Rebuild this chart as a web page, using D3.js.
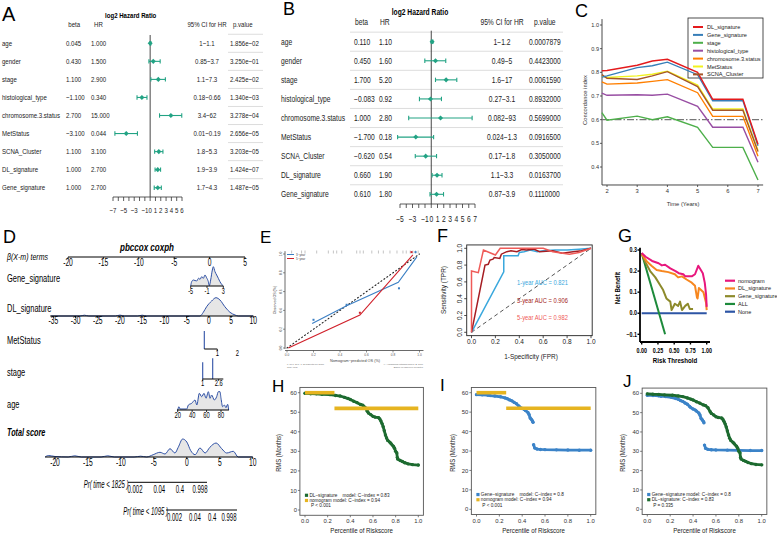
<!DOCTYPE html>
<html>
<head>
<meta charset="utf-8">
<script src="https://cdn.jsdelivr.net/npm/d3@7/dist/d3.min.js"></script>
<style>
html,body{margin:0;padding:0;background:#fff;}
svg{display:block;font-family:"Liberation Sans",Arial,Helvetica,sans-serif;}
</style>
</head>
<body>
<svg id="fig" width="777" height="536"></svg>
<script>
// ================= DATA =================
const forestTerms = ["age","gender","stage","histological_type","chromosome.3.status","MetStatus","SCNA_Cluster","DL_signature","Gene_signature"];
// Panel A (multivariate)
const aBeta = [0.045,0.430,1.100,-1.100,2.700,-3.100,1.100,1.000,1.000];
const aHR   = [1.000,1.500,2.900,0.340,15.000,0.044,3.100,2.700,2.700];
const aLo   = [1,0.85,1.1,0.18,3.4,0.01,1.8,1.9,1.7];
const aHi   = [1.1,3.7,7.3,0.66,62,0.19,5.3,3.9,4.3];
const aP    = [1.856e-2,3.250e-1,2.425e-2,1.340e-3,3.278e-4,2.656e-5,3.203e-5,1.424e-7,1.487e-5];
const aTicks = [-7,-6,-5,-4,-3,-2,-1,0,1,2,3,4,5,6];
const aTickLabels = [-7,-5,-3,-1,0,1,2,3,4,5,6];
// Panel B
const bBeta = [0.110,0.450,1.700,-0.083,1.000,-1.700,-0.620,0.660,0.610];
const bHR   = [1.10,1.60,5.20,0.92,2.80,0.18,0.54,1.90,1.80];
const bLo   = [1,0.49,1.6,0.27,0.082,0.024,0.17,1.1,0.87];
const bHi   = [1.2,5,17,3.1,93,1.3,1.8,3.3,3.9];
const bP    = [0.0007879,0.4423,0.006159,0.8932,0.5699,0.09165,0.305,0.01637,0.111];
const bTicks = [-5,-4,-3,-2,-1,0,1,2,3,4,5,6,7];
const bTickLabels = [-5,-3,-1,0,1,2,3,4,5,6,7];

// Panel C: time-dependent C-index
const cTimes = [1.83,2,3,3.5,4,5,5.5,6.5,7];
const cNames = ["DL_signature","Gene_signature","stage","histological_type","chromosome.3.status","MetStatus","SCNA_Cluster"];
const cDL    = [0.807,0.808,0.830,0.848,0.855,0.800,0.686,0.686,0.496];
const cGene  = [0.780,0.785,0.820,0.828,0.843,0.790,0.680,0.680,0.490];
const cStage = [0.630,0.598,0.615,0.600,0.612,0.568,0.483,0.483,0.345];
const cHist  = [0.712,0.703,0.705,0.703,0.708,0.656,0.568,0.568,0.420];
const cChrom = [0.760,0.750,0.755,0.762,0.769,0.714,0.614,0.614,0.445];
const cMet   = [0.785,0.778,0.785,0.792,0.805,0.746,0.645,0.645,0.470];
const cSCNA  = [0.790,0.775,0.770,0.785,0.803,0.740,0.640,0.640,0.465];
const cYTicks = [0.4,0.5,0.6,0.7,0.8,0.9,1.0];
const cXTicks = [2,3,4,5,6,7];
const cRef = 0.6;

// Panel D: nomogram densities [value, density]
const dTopTicks = [-20,-15,-10,-5,0,5];
const dGeneTicks = [-5,-1,3];
const dGeneDens = [[-5,0],[-4.76,4.3],[-4.35,6],[-3.53,5],[-3.1,7.7],[-2.7,6.7],[-2.3,9.3],[-1.9,7.7],[-1.5,11],[-1.1,8.3],[-0.67,4.3],[-0.43,0.3],[-0.1,6],[0.31,16],[0.55,19.3],[0.96,14.3],[1.37,11],[1.78,7.7],[2.18,4.3],[2.6,1.7],[3,0]];
const dDLTicks = [-35,-30,-25,-20,-15,-10,-5,0,5,10];
const dDLDens = [[-35.5,0],[-29,0],[-28,0.8],[-27,0],[-21,0],[-20,0.9],[-19,0],[-16,0],[-15,0.8],[-14,0],[-2,0],[-1.25,3.7],[-0.5,9.3],[0.63,15],[1.6,18.3],[2.5,16],[3.6,9.3],[4.75,3.7],[5.9,1],[6.6,0],[10,0]];
const dMetSpike = [[0,18]];
const dMetTicks = [1];
const dStageSpikes = [[1,16.7],[2,20.7]];
const dStageTicks = [1,2.6];
const dAgeTicks = [20,40,60,80];
const dAgeDens = [[20,0],[21.8,3.3],[23.2,1],[32.5,1],[34.8,5],[39.4,6.7],[44,10],[46.5,5],[50,16.7],[53.2,13.3],[56.5,16.7],[59.2,11.7],[62.5,18.3],[64.8,11.7],[67,15],[70.8,10],[74,13.3],[76.3,18.3],[78.6,18.3],[80,11.7],[82.3,3.3],[84.6,5],[86.9,2.3],[89.2,5.7],[90.6,0]];
const dTotTicks = [-20,-15,-10,-5,0,5,10];
const dTotDens = [[-21.5,0],[-21,1.5],[-20,0.5],[-18,0],[-17,1.2],[-16,0],[-13,0],[-12,1.2],[-11,0],[-8,0],[-7,0.8],[-6.1,0],[-5.1,2.3],[-4.07,4.7],[-3.3,3],[-2.55,8.3],[-1.8,4],[-1.3,9.7],[-0.63,18],[0,15],[0.6,6.3],[1.26,2.3],[2.0,9],[2.78,4],[3.5,9.7],[4.45,14],[5.3,8.3],[6.05,4],[7.06,5.7],[7.8,0],[10,0]];
const dPrTicks = [0.002,0.04,0.4,0.998];

// Panel E: calibration
const eTicks = [0,0.2,0.4,0.6,0.8,1.0];
const e3yr = [[0.19,0.26],[0.45,0.45],[0.84,0.70],[0.98,0.97]];
const e3yrPts = [[0.2,0.30],[0.45,0.46],[0.845,0.635],[0.97,1.02]];
const e5yr = [[0.01,0.0],[0.55,0.35],[0.95,0.99]];
const e5yrPts = [[0.55,0.375],[0.94,1.02]];
const eRug = [0.035,0.11,0.136,0.224,0.312,0.35,0.375,0.413,0.526,0.551,0.576,0.64,0.69,0.727,0.777,0.83,0.875,0.9,0.93,0.95,0.97,0.99];

// Panel F: ROC
const fTicks = [0,0.2,0.4,0.6,0.8,1.0];
const fROC1 = [[0,0],[0.27,0.72],[0.27,0.91],[0.39,0.91],[0.40,0.95],[0.44,0.96],[0.49,0.98],[0.55,0.96],[0.6,0.97],[0.7,0.98],[0.8,0.98],[0.9,0.99],[1,1]];
const fROC3 = [[0,0],[0.113,0.80],[0.14,0.81],[0.155,0.86],[0.18,0.87],[0.19,0.89],[0.237,0.88],[0.25,0.93],[0.295,0.96],[0.33,0.97],[0.38,0.96],[0.42,0.985],[0.46,0.98],[0.52,0.99],[0.57,0.96],[0.68,0.97],[0.76,0.94],[0.85,0.96],[0.92,0.97],[1,1]];
const fROC5 = [[0,0],[0,0.73],[0.057,0.71],[0.1,0.98],[0.2,0.92],[0.24,1.0],[0.6,1.0],[0.68,0.96],[0.82,0.93],[0.9,0.95],[1,1]];
const fAUC = ["1-year AUC = 0.821","3-year AUC = 0.906","5-year AUC = 0.982"];

// Panel G: decision curves
const gXTicks = [0,0.25,0.5,0.75,1.0];
const gYTicks = [-0.1,0,0.1,0.2,0.3];
const gNames = ["nomogram","DL_signature","Gene_signature","ALL","None"];
const gNomo = [[0,0.286],[0.06,0.268],[0.16,0.248],[0.26,0.237],[0.31,0.227],[0.36,0.23],[0.44,0.213],[0.52,0.2],[0.57,0.19],[0.64,0.185],[0.67,0.175],[0.77,0.175],[0.82,0.185],[0.87,0.225],[0.91,0.205],[0.94,0.19],[0.97,0.145],[0.99,0.09],[1.0,0.03]];
const gDL = [[0,0.28],[0.08,0.245],[0.15,0.225],[0.23,0.205],[0.31,0.2],[0.41,0.195],[0.51,0.185],[0.56,0.17],[0.62,0.175],[0.69,0.16],[0.77,0.145],[0.82,0.13],[0.85,0.075],[0.86,0.07],[0.88,0.12],[0.95,0.1],[0.99,0.05],[1.0,0.015]];
const gGene = [[0,0.285],[0.05,0.245],[0.13,0.2],[0.21,0.17],[0.28,0.135],[0.33,0.11],[0.38,0.07],[0.44,0.055],[0.46,0.015],[0.51,0.045],[0.56,0.035],[0.59,0.055],[0.62,0.015],[0.67,0.035],[0.71,0.045],[0.74,0.02],[0.79,0.02]];
const gAll = [[0,0.285],[0.36,-0.1]];
const gNone = [[0,0],[1,0]];

// Panels H, I, J: restricted mean survival vs percentile of risk score
const rmsXTicks = [0,0.2,0.4,0.6,0.8,1.0];
const rmsYTicks = [0,10,20,30,40,50,60];
const rmsDL = [[0,59.7],[0.05,59.5],[0.1,59.4],[0.15,59.2],[0.22,59.0],[0.27,58.6],[0.31,58.3],[0.35,57.6],[0.38,57.0],[0.40,56.5],[0.43,55.6],[0.46,54.9],[0.49,54.0],[0.51,53.6],[0.53,52.5],[0.55,50.5],[0.56,49.6],[0.58,48.8],[0.6,47.9],[0.62,47.5],[0.65,47.2],[0.66,46.6],[0.67,45.5],[0.68,44.2],[0.69,42.6],[0.70,40.5],[0.71,38.4],[0.72,36.8],[0.73,35.6],[0.75,34.6],[0.76,33.9],[0.78,32.6],[0.79,31.6],[0.80,30.0],[0.81,29.2],[0.815,26.8],[0.82,26.0],[0.84,25.3],[0.86,24.8],[0.88,24.2],[0.91,23.6],[0.95,23.2],[1.0,23.0]];
const rmsGene = [[0,59.0],[0.05,58.9],[0.1,58.7],[0.12,58.5],[0.16,58.3],[0.21,57.9],[0.25,57.3],[0.27,56.9],[0.29,56.3],[0.31,55.8],[0.33,55.0],[0.35,54.3],[0.37,53.2],[0.38,52.6],[0.40,51.9],[0.42,51.3],[0.43,50.8],[0.45,49.8],[0.46,48.8],[0.47,47.0],[0.48,46.3],[0.49,45.5],[0.495,44.8],null,[0.50,33.2],[0.51,31.5],[0.53,31.0],[0.56,30.8],[0.6,30.7],[0.7,30.6],[0.8,30.5],[0.9,30.4],[1.0,30.4]];
const rmsNomoSteps = [[0,0.26,60],[0.26,1.0,52]];
const hLegend = ["DL\u2212signature    model: C\u2212index = 0.83","nomogram model: C\u2212index = 0.94","P < 0.001"];
const iLegend = ["Gene\u2212signature    model: C\u2212index = 0.8","nomogram model: C\u2212index = 0.94","P < 0.001"];
const jLegend = ["Gene\u2212signature model: C\u2212index = 0.8","DL\u2212signature: C\u2212index = 0.83","P = 0.335"];

// ================= HELPERS =================
const svg = d3.select("#fig");
svg.append("rect").attr("width",777).attr("height",536).attr("fill","#fff");

function T(g,x,y,s,o={}){
  let tr=`translate(${x},${y})`;
  if(o.rot) tr+=` rotate(${o.rot})`;
  if(o.sx && o.sx!==1) tr+=` scale(${o.sx},1)`;
  const t=g.append("text").attr("transform",tr).attr("font-size",o.fs||7)
    .attr("text-anchor",o.a||"start").attr("fill",o.fill||"#000").text(s);
  if(o.w) t.attr("font-weight",o.w);
  if(o.it) t.attr("font-style","italic");
  if(o.pre) t.style("white-space","pre");
  return t;
}
function L(g,x1,y1,x2,y2,c="#000",w=1,dash){
  const l=g.append("line").attr("x1",x1).attr("y1",y1).attr("x2",x2).attr("y2",y2)
    .attr("stroke",c).attr("stroke-width",w);
  if(dash) l.attr("stroke-dasharray",dash);
  return l;
}

// panel letters
[["A",2,21,20],["B",283,15,18],["C",575,17,18],["D",3,243,18],["E",260,243,17],
 ["F",437,242,18],["G",618,242,18],["H",272,392,17],["I",440,391,17],["J",623,387,17]]
 .forEach(([s,x,y,f])=>T(svg,x,y,s,{fs:f}));

// ================= A & B : forest =================
function pExp(v){
  return v.toExponential(3).replace(/e([+-])(\d+)$/,(m,s,d)=>"e"+(s==="-"?"\u2212":"+")+(d.length<2?"0"+d:d));
}
function drawForest(o){
  const g=svg.append("g");
  const y=d3.scalePoint().domain(forestTerms).range(o.rows);
  const step=y.step();
  const x=d3.scaleLinear().domain(o.dom).range(o.rng);
  const fb=d3.format(".3f"), fh=d3.format(o.hrFmt);
  const tf={fs:o.fs,sx:o.sx,fill:"#222"};
  T(g,o.titleX,o.titleY,"log2 Hazard Ratio",{fs:o.fs,sx:o.sx,a:"middle",w:"bold"});
  T(g,o.hBeta,o.headY,"beta",tf);
  T(g,o.hHR,o.headY,"HR",tf);
  T(g,o.colCI,o.headY,"95% CI for HR",{...tf,a:"middle"});
  T(g,o.hP,o.headY,"p.value",tf);
  forestTerms.forEach((t)=>L(g,o.sep[0],y(t)-step/2,o.sep[1],y(t)-step/2,"#cfcfcf",0.7));
  forestTerms.forEach((t,i)=>{
    const yy=y(t)+o.fs*0.36;
    T(g,o.colLabel,yy,t,tf);
    T(g,o.colBeta,yy,fb(o.beta[i]),tf);
    T(g,o.colHR,yy,fh(o.hr[i]),tf);
    T(g,o.colCI,yy,`${o.lo[i]}\u2212${o.hi[i]}`,{...tf,a:"middle"});
    T(g,o.colP,yy,o.pf(o.p[i]),tf);
  });
  L(g,x(0),o.vTop,x(0),o.axisY,"#333",0.9);
  const col="#22a384";
  forestTerms.forEach((t,i)=>{
    const x1=x(Math.log2(o.lo[i])), x2=x(Math.log2(o.hi[i])), yy=y(t);
    L(g,x1,yy,x2,yy,col,1.1);
    L(g,x1,yy-2.2,x1,yy+2.2,col,1.1);
    L(g,x2,yy-2.2,x2,yy+2.2,col,1.1);
    g.append("path").attr("d",d3.symbol(d3.symbolSquare,13)())
      .attr("transform",`translate(${x(Math.log2(o.hr[i]))},${yy}) rotate(45)`).attr("fill",col);
  });
  L(g,x(o.ticks[0]),o.axisY,x(o.ticks[o.ticks.length-1]),o.axisY,"#333",0.8);
  o.ticks.forEach(v=>L(g,x(v),o.axisY,x(v),o.axisY+4,"#333",0.8));
  o.tickLabels.forEach(v=>T(g,x(v),o.tickY,d3.format("d")(v),{fs:o.fs,sx:o.sx,a:"middle",fill:"#222"}));
}
drawForest({rows:[43.3,187.7],dom:[-7,6],rng:[113,182],fs:7.7,sx:0.79,hrFmt:".3f",
  beta:aBeta,hr:aHR,lo:aLo,hi:aHi,p:aP,pf:pExp,ticks:aTicks,tickLabels:aTickLabels,
  titleX:130.7,titleY:18.3,headY:27.3,hBeta:68.3,hHR:94,hP:233,
  colLabel:2,colBeta:66,colHR:91,colCI:207,colP:230,sep:[228,263],vTop:35,axisY:197,tickY:213});
drawForest({rows:[41.7,194.3],dom:[-5,7],rng:[400,475],fs:8.5,sx:0.79,hrFmt:".2f",
  beta:bBeta,hr:bHR,lo:bLo,hi:bHi,p:bP,pf:v=>v.toFixed(7),ticks:bTicks,tickLabels:bTickLabels,
  titleX:420,titleY:15,headY:25,hBeta:355,hHR:380,hP:534,
  colLabel:281,colBeta:354,colHR:379,colCI:502,colP:529,sep:[350,563],vTop:30.7,axisY:204,tickY:221.5});

// ================= C =================
(function(){
  const g=svg.append("g");
  const x=d3.scaleLinear().domain([2,7]).range([607,758]);
  const y=d3.scaleLinear().domain([0.4,1.0]).range([167,25]);
  const ax="#333";
  L(g,602,y(1.025),602,y(0.324),ax,0.9);
  L(g,602,y(0.324),x(7.17),y(0.324),ax,0.9);
  cYTicks.forEach(v=>{L(g,600,y(v),602,y(v),ax,0.8);T(g,599,y(v)+2,d3.format(".1f")(v),{fs:5.6,a:"end",fill:"#333"});});
  cXTicks.forEach(v=>{L(g,x(v),y(0.324),x(v),y(0.324)+2,ax,0.8);T(g,x(v),y(0.324)+8.5,String(v),{fs:5.8,a:"middle",fill:"#333"});});
  T(g,683,206,"Time (Years)",{fs:5.8,a:"middle",fill:"#333"});
  T(g,587,100,"Concordance index",{fs:5.8,a:"middle",rot:-90,fill:"#333"});
  L(g,602,y(cRef),763,y(cRef),"#777",1.1,"7,2,1.5,2");
  const series=[cDL,cGene,cStage,cHist,cChrom,cMet,cSCNA];
  const colors=["#e41a1c","#377eb8","#4daf4a","#984ea3","#ff7f00","#f2f21e","#a65628"];
  const line=d3.line().x((d,i)=>x(cTimes[i])).y(d=>y(d));
  const order=[2,3,4,5,6,1,0];
  g.append("rect").attr("x",688).attr("y",18).attr("width",75).attr("height",60)
    .attr("fill","none").attr("stroke","#222").attr("stroke-width",0.8);
  order.forEach(k=>g.append("path").attr("d",line(series[k])).attr("fill","none")
    .attr("stroke",colors[k]).attr("stroke-width",1.4));
  cNames.forEach((n,i)=>{
    const yy=27+i*7.9;
    L(g,693,yy,703,yy,colors[i],2);
    T(g,707,yy+2,n,{fs:5.9,sx:0.95,fill:"#222"});
  });
})();

// ================= D : nomogram =================
(function(){
  const g=svg.append("g");
  const fsT=10.5, sxT=0.64, blue="#2f51a6", fillC="#e6e6e6";
  const dens=d3.scaleLinear().domain([0,20]).range([0,20]);
  T(g,147,251,"pbccox coxph",{fs:11,sx:0.73,a:"middle",w:"bold",it:true});
  T(g,7,259.5,"\u03b2(X-m) terms",{fs:9,sx:0.78,it:true});
  const lab=[["Gene_signature",281.7],["DL_signature",312],["MetStatus",344],["stage",376],["age",407.7]];
  lab.forEach(([s,yy])=>T(g,7,yy,s,{fs:11,sx:0.68}));
  T(g,7,435.7,"Total score",{fs:11,sx:0.66,w:"bold",it:true});
  function axis(sc,yy,ticks,lblY,ext,fs=fsT,lbl=d=>String(d)){
    L(g,ext[0],yy,ext[1],yy,"#000",1);
    ticks.forEach(v=>{L(g,sc(v),yy,sc(v),yy+2,"#000",0.8);T(g,sc(v),lblY,lbl(v),{fs:fs,sx:sxT,a:"middle"});});
  }
  function density(sc,yy,data){
    const area=d3.area().x(d=>sc(d[0])).y0(yy).y1(d=>yy-dens(d[1])).curve(d3.curveMonotoneX);
    const ln=d3.line().x(d=>sc(d[0])).y(d=>yy-dens(d[1])).curve(d3.curveMonotoneX);
    g.append("path").attr("d",area(data)).attr("fill",fillC);
    g.append("path").attr("d",ln(data)).attr("fill","none").attr("stroke",blue).attr("stroke-width",1);
  }
  const top=d3.scaleLinear().domain([-20,5]).range([68,245]);
  axis(top,257,dTopTicks,266,[top(-20),top(5)]);
  const gene=d3.scaleLinear().domain([-5,3]).range([190.7,223.3]);
  density(gene,286,dGeneDens);
  axis(gene,286,dGeneTicks,293.5,[gene(-5),gene(3)],8.5);
  const dl=d3.scaleLinear().domain([-35,10]).range([53.3,253.3]);
  density(dl,316,dDLDens);
  axis(dl,316,dDLTicks,324,[dl(-35.7),dl(10)]);
  const met=d3.scaleLinear().domain([0,1]).range([204.3,217.3]);
  dMetSpike.forEach(d=>L(g,met(d[0]),349,met(d[0]),349-dens(d[1]),blue,1.1));
  axis(met,349,dMetTicks,356,[met(0),met(1)],9);
  T(g,met(2.55),356,"2",{fs:9,sx:sxT,a:"middle"});
  const st=d3.scaleLinear().domain([1,2.6]).range([202.7,218.7]);
  dStageSpikes.forEach(d=>L(g,st(d[0]),379,st(d[0]),379-dens(d[1]),blue,1.1));
  axis(st,379,dStageTicks,386,[st(1),st(3.06)],9);
  const age=d3.scaleLinear().domain([20,80]).range([177.7,221]);
  density(age,410,dAgeDens);
  axis(age,410,dAgeTicks,417.5,[age(19),age(91)],9);
  const tot=d3.scaleLinear().domain([-20,10]).range([55,252.7]);
  density(tot,457,dTotDens);
  axis(tot,457,dTotTicks,465.5,[tot(-21.5),tot(10)]);
  const cll=p=>Math.log(-Math.log(1-p));
  const p1=d3.scaleLinear().domain([cll(0.002),cll(0.998)]).range([135,200]);
  L(g,128,482.3,207,482.3,"#000",1);
  dPrTicks.forEach(v=>T(g,p1(cll(v)),492.7,String(v),{fs:10,sx:0.6,a:"middle"}));
  T(g,128.5,487.7,"Pr( time < 1825 )",{fs:10,sx:0.6,a:"end",it:true});
  const p2=d3.scaleLinear().domain([cll(0.002),cll(0.998)]).range([174.5,229]);
  L(g,166,510,237,510,"#000",1);
  dPrTicks.forEach(v=>T(g,p2(cll(v)),521,String(v),{fs:10,sx:0.6,a:"middle"}));
  T(g,168,515,"Pr( time < 1095 )",{fs:10,sx:0.6,a:"end",it:true});
})();

// ================= E : calibration =================
(function(){
  const g=svg.append("g");
  const x=d3.scaleLinear().domain([0,1]).range([287,419.5]);
  const y=d3.scaleLinear().domain([0,1]).range([348,254]);
  const ax="#444";
  L(g,285,y(1.03),285,y(-0.01),ax,0.8);
  L(g,285,350.5,x(1.03),350.5,ax,0.8);
  eTicks.forEach(v=>{
    L(g,283,y(v),285,y(v),ax,0.6);
    T(g,281.5,y(v),d3.format(".1f")(v),{fs:3.2,a:"middle",rot:-90,fill:"#555"});
    L(g,x(v),350.5,x(v),352.5,ax,0.6);
    T(g,x(v),356,d3.format(".1f")(v),{fs:3.2,a:"middle",fill:"#555"});
  });
  T(g,355,362,"Nomogram\u2212predicted OS (%)",{fs:3.8,a:"middle",fill:"#444"});
  T(g,276,300,"Observed OS (%)",{fs:3.6,a:"middle",rot:-90,fill:"#444"});
  T(g,287,365,"n=80 d=51 p=1, 26 subjects per group",{fs:2.2,fill:"#666"});
  T(g,287,367.5,"Gray: ideal",{fs:2.2,fill:"#666"});
  T(g,423,365,"X \u2212 resampling optimism added, B=1000",{fs:2.2,a:"end",fill:"#666"});
  T(g,423,367.5,"Based on observed\u2212predicted",{fs:2.2,a:"end",fill:"#666"});
  eRug.forEach(v=>L(g,x(v),250.5,x(v),253.5,"#888",0.5));
  L(g,x(0),y(0),x(1),y(1),"#222",1.1,"1,2.6").attr("stroke-linecap","round");
  const ln=d3.line().x(d=>x(d[0])).y(d=>y(d[1]));
  g.append("path").attr("d",ln(e3yr)).attr("fill","none").attr("stroke","#3b7fc4").attr("stroke-width",1.1);
  g.append("path").attr("d",ln(e5yr)).attr("fill","none").attr("stroke","#d0202a").attr("stroke-width",1.1);
  e3yrPts.forEach(d=>g.append("rect").attr("x",x(d[0])-1).attr("y",y(d[1])-1).attr("width",2).attr("height",2).attr("fill","#3b7fc4"));
  e5yrPts.forEach(d=>g.append("rect").attr("x",x(d[0])-1).attr("y",y(d[1])-1).attr("width",2).attr("height",2).attr("fill","#d0202a"));
  L(g,287,254.5,294,254.5,"#3b7fc4",1);
  L(g,287,258.5,294,258.5,"#d0202a",1);
  T(g,296,255.6,"3\u2212year",{fs:3,fill:"#444"});
  T(g,296,259.6,"5\u2212year",{fs:3,fill:"#444"});
})();

// ================= F : ROC =================
(function(){
  const g=svg.append("g");
  const x=d3.scaleLinear().domain([0,1]).range([471.5,591]);
  const y=d3.scaleLinear().domain([0,1]).range([332.3,248.3]);
  g.append("rect").attr("x",x(-0.04)).attr("y",y(1.04)).attr("width",x(1.01)-x(-0.04)).attr("height",y(-0.04)-y(1.04))
    .attr("fill","none").attr("stroke","#222").attr("stroke-width",0.9);
  fTicks.forEach(v=>{
    L(g,x(v),y(-0.04),x(v),y(-0.04)+2.5,"#222",0.8);
    T(g,x(v),343.5,d3.format(".1f")(v),{fs:6.5,a:"middle",fill:"#222"});
    L(g,x(-0.04),y(v),x(-0.04)-2.5,y(v),"#222",0.8);
    T(g,461.5,y(v),d3.format(".1f")(v),{fs:6.5,a:"middle",rot:-90,fill:"#222"});
  });
  T(g,531,359,"1-Specificity (FPR)",{fs:7,sx:0.92,a:"middle",fill:"#222"});
  T(g,446,290,"Sensitivity (TPR)",{fs:7,sx:0.92,a:"middle",rot:-90,fill:"#222"});
  L(g,x(0),y(0),x(1),y(1),"#555",1,"4,3");
  const ln=d3.line().x(d=>x(d[0])).y(d=>y(d[1]));
  const cols=["#3aa8dd","#a51d22","#ef5b58"];
  [fROC1,fROC3,fROC5].forEach((d,i)=>g.append("path").attr("d",ln(d)).attr("fill","none")
    .attr("stroke",cols[i]).attr("stroke-width",1.5));
  fAUC.forEach((s,i)=>T(g,517,285+i*17.5,s,{fs:6.3,sx:0.92,fill:cols[i]}));
})();

// ================= G : DCA =================
(function(){
  const g=svg.append("g");
  const x=d3.scaleLinear().domain([0,1]).range([641.7,706.7]);
  const y=d3.scaleLinear().domain([-0.1,0.3]).range([334.3,250]);
  const ln=d3.line().x(d=>x(d[0])).y(d=>y(d[1]));
  const data=[gNomo,gDL,gGene,gAll,gNone];
  const cols=["#e8177d","#f7871f","#8d8a2b","#1d8a3b","#2d55a5"];
  [4,3,2,1,0].forEach(k=>g.append("path").attr("d",ln(data[k])).attr("fill","none")
    .attr("stroke",cols[k]).attr("stroke-width",2).attr("stroke-linejoin","round"));
  L(g,640,247.7,640,342,"#000",1.8);
  L(g,640,342,710,342,"#000",1.8);
  gYTicks.forEach(v=>{L(g,637.5,y(v),640,y(v),"#000",1.4);
    T(g,637,y(v)+2.2,d3.format(".1f")(v),{fs:6.3,sx:0.85,a:"end",w:"bold"});});
  gXTicks.forEach(v=>{L(g,x(v),342,x(v),344.5,"#000",1.4);
    T(g,x(v),353,d3.format(".2f")(v),{fs:6.3,sx:0.85,a:"middle",w:"bold"});});
  T(g,675,363,"Risk Threshold",{fs:7.5,sx:0.82,a:"middle",w:"bold"});
  T(g,620,288,"Net Benefit",{fs:7.2,sx:0.85,a:"middle",rot:-90,w:"bold"});
  gNames.forEach((n,i)=>{
    const yy=280.7+i*7.75;
    L(g,725,yy,735,yy,cols[i],2.2);
    T(g,738,yy+2,n,{fs:6.2,sx:0.9,fill:"#222"});
  });
})();

// ================= H, I, J : RMS =================
function rmsPanel(o){
  const g=svg.append("g");
  const x=d3.scaleLinear().domain([0,1]).range([o.x0,o.x1]);
  const y=d3.scaleLinear().domain([0,60]).range([o.y0,o.y60]);
  const bx0=x(-0.045),bx1=x(1.045),by0=y(-2.7),by1=y(62.7);
  const ax="#444";
  rmsXTicks.forEach(v=>{L(g,x(v),by0,x(v),by0+2,ax,0.7);
    T(g,x(v),by0+8,d3.format(".1f")(v),{fs:6.2,sx:0.95,a:"middle",fill:"#333"});});
  rmsYTicks.forEach(v=>{L(g,bx0-2,y(v),bx0,y(v),ax,0.7);
    T(g,bx0-3,y(v)+2.1,String(v),{fs:6.2,sx:0.95,a:"end",fill:"#333"});});
  T(g,(bx0+bx1)/2,532.7,"Percentile of Riskscore",{fs:6.6,sx:0.93,a:"middle",fill:"#222"});
  T(g,o.ylx,453,"RMS (Months)",{fs:6.3,sx:0.93,a:"middle",rot:-90,fill:"#222"});
  const ln=d3.line().defined(d=>d!=null).x(d=>x(d[0])).y(d=>y(d[1]));
  o.series.forEach(s=>{
    if(s.steps){
      s.steps.forEach(st=>L(g,x(st[0]),y(st[2]),x(st[1]),y(st[2]),s.color,3.6));
    } else {
      g.append("path").attr("d",ln(s.data)).attr("fill","none").attr("stroke",s.color)
        .attr("stroke-width",2.8).attr("stroke-linecap","round").attr("stroke-linejoin","round");
      g.selectAll(null).data(s.data.filter(d=>d)).enter().append("circle")
        .attr("cx",d=>x(d[0])).attr("cy",d=>y(d[1])).attr("r",1.7).attr("fill",s.color);
    }
  });
  g.append("rect").attr("x",bx0).attr("y",by1).attr("width",bx1-bx0).attr("height",by0-by1)
    .attr("fill","none").attr("stroke","#555").attr("stroke-width",0.9);
  o.legend.forEach((s,i)=>{
    const yy=by0-20+i*5.2;
    if(i<2) g.append("rect").attr("x",bx0+5).attr("y",yy-1.6).attr("width",3.2).attr("height",3.2).attr("fill",o.legCols[i]);
    T(g,i<2?bx0+9.5:bx0+11,yy+1.7,s,{fs:5.2,sx:0.9,fill:"#222",pre:true});
  });
}
const cGreen="#1d6b30", cBlue="#3b83c8", cGold="#e6b420";
rmsPanel({x0:305,x1:418.3,y0:510,y60:392.7,ylx:281,legend:hLegend,legCols:[cGreen,cGold],
  series:[{data:rmsDL,color:cGreen},{steps:rmsNomoSteps,color:cGold}]});
rmsPanel({x0:476.5,x1:590.7,y0:509.3,y60:392.7,ylx:455,legend:iLegend,legCols:[cBlue,cGold],
  series:[{data:rmsGene,color:cBlue},{steps:rmsNomoSteps,color:cGold}]});
rmsPanel({x0:647.3,x1:761.7,y0:509.3,y60:393.3,ylx:625,legend:jLegend,legCols:[cBlue,cGreen],
  series:[{data:rmsGene,color:cBlue},{data:rmsDL,color:cGreen}]});
</script>
</body>
</html>
